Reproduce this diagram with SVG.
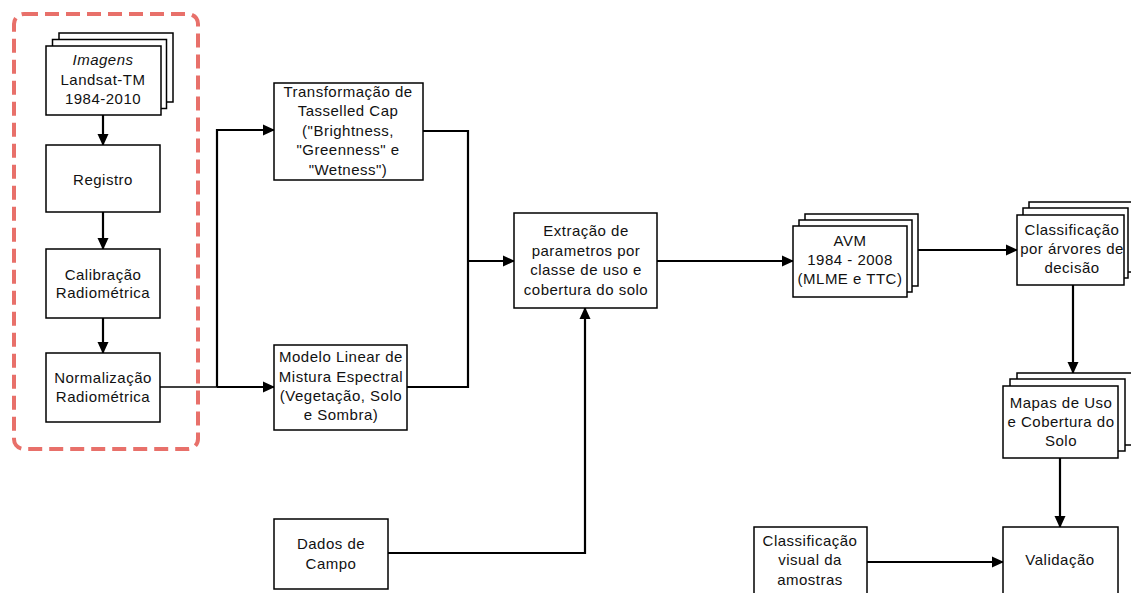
<svg xmlns="http://www.w3.org/2000/svg" width="1131" height="593" viewBox="0 0 1131 593">
  <style>
    .box { fill: #fff; stroke: #000; stroke-width: 1.5; }
    .lbl { font-family: "Liberation Sans", Arial, sans-serif; font-size: 15px; letter-spacing: 0.5px; fill: #111; text-anchor: middle; }
    .wire { fill: none; stroke: #000; stroke-width: 2.2; }
    .thin { fill: none; stroke: #000; stroke-width: 1.3; }
    .group { fill: none; stroke: #e8706a; stroke-width: 4; stroke-dasharray: 14 7; }
  </style>
  <defs>
    <marker id="arrow" markerUnits="userSpaceOnUse" markerWidth="12" markerHeight="12" viewBox="0 0 12 12" refX="11" refY="6" orient="auto">
      <path d="M0,0.5 L12,6 L0,11.5 Z" fill="#000"/>
    </marker>
  </defs>
  <rect width="1131" height="593" fill="#fff"/>

  <!-- pre-processing group -->
  <rect class="group" x="14" y="14" width="184" height="435" rx="10"/>

  <!-- connectors -->
  <g id="connectors">
    <path class="wire" d="M103,115 V145" marker-end="url(#arrow)"/>
    <path class="wire" d="M103,212 V249" marker-end="url(#arrow)"/>
    <path class="wire" d="M103,318 V353" marker-end="url(#arrow)"/>
    <path class="thin" d="M160,387 H217"/>
    <path class="wire" d="M217,387 V130 H274" marker-end="url(#arrow)"/>
    <path class="wire" d="M217,387 H274" marker-end="url(#arrow)"/>
    <path class="wire" d="M423,131 H468 V387 H407"/>
    <path class="wire" d="M468,261 H514" marker-end="url(#arrow)"/>
    <path class="wire" d="M388,553 H585 V308" marker-end="url(#arrow)"/>
    <path class="wire" d="M657,261 H793" marker-end="url(#arrow)"/>
    <path class="wire" d="M917,250 H1017" marker-end="url(#arrow)"/>
    <path class="wire" d="M1073,285 V373" marker-end="url(#arrow)"/>
    <path class="wire" d="M1060,458 V527" marker-end="url(#arrow)"/>
    <path class="wire" d="M867,562 H1003" marker-end="url(#arrow)"/>
  </g>

  <g id="imagens">
    <rect class="box" x="59" y="33" width="114" height="69"/>
    <rect class="box" x="52.5" y="39.5" width="114" height="69"/>
    <rect class="box" x="46" y="46" width="115" height="69"/>
    <text class="lbl" x="103" y="65" font-style="italic">Imagens</text>
    <text class="lbl" x="103" y="85">Landsat-TM</text>
    <text class="lbl" x="103" y="104">1984-2010</text>
  </g>

  <g id="registro">
    <rect class="box" x="46" y="145" width="114" height="67"/>
    <text class="lbl" x="103" y="185">Registro</text>
  </g>

  <g id="calibracao">
    <rect class="box" x="46" y="249" width="114" height="69"/>
    <text class="lbl" x="103" y="280">Calibração</text>
    <text class="lbl" x="103" y="298">Radiométrica</text>
  </g>

  <g id="normalizacao">
    <rect class="box" x="46" y="353" width="114" height="69"/>
    <text class="lbl" x="103" y="383">Normalização</text>
    <text class="lbl" x="103" y="402">Radiométrica</text>
  </g>

  <g id="tasselled-cap">
    <rect class="box" x="274" y="83" width="149" height="97"/>
    <text class="lbl" x="348" y="97">Transformação de</text>
    <text class="lbl" x="348" y="116">Tasselled Cap</text>
    <text class="lbl" x="348" y="136">("Brightness,</text>
    <text class="lbl" x="348" y="155">"Greenness" e</text>
    <text class="lbl" x="348" y="175">"Wetness")</text>
  </g>

  <g id="mistura-espectral">
    <rect class="box" x="274" y="345" width="133" height="85"/>
    <text class="lbl" x="341" y="362">Modelo Linear de</text>
    <text class="lbl" x="341" y="382">Mistura Espectral</text>
    <text class="lbl" x="341" y="401">(Vegetação, Solo</text>
    <text class="lbl" x="341" y="420">e Sombra)</text>
  </g>

  <g id="extracao">
    <rect class="box" x="514" y="213" width="143" height="95"/>
    <text class="lbl" x="586" y="236">Extração de</text>
    <text class="lbl" x="586" y="256">parametros por</text>
    <text class="lbl" x="586" y="275">classe de uso e</text>
    <text class="lbl" x="586" y="295">cobertura do solo</text>
  </g>

  <g id="dados-campo">
    <rect class="box" x="274" y="519" width="114" height="70"/>
    <text class="lbl" x="331" y="549">Dados de</text>
    <text class="lbl" x="331" y="569">Campo</text>
  </g>

  <g id="avm">
    <rect class="box" x="805" y="214" width="113" height="72"/>
    <rect class="box" x="799" y="220" width="113" height="72"/>
    <rect class="box" x="793" y="226" width="114" height="71"/>
    <text class="lbl" x="850" y="246">AVM</text>
    <text class="lbl" x="850" y="265">1984 - 2008</text>
    <text class="lbl" x="850" y="284">(MLME e TTC)</text>
  </g>

  <g id="arvores-decisao">
    <rect class="box" x="1029" y="202" width="110" height="70"/>
    <rect class="box" x="1023" y="208" width="105" height="70"/>
    <rect class="box" x="1017" y="215" width="107" height="70"/>
    <text class="lbl" x="1072" y="235">Classificação</text>
    <text class="lbl" x="1072" y="254">por árvores de</text>
    <text class="lbl" x="1072" y="273">decisão</text>
  </g>

  <g id="mapas">
    <rect class="box" x="1017" y="373" width="116" height="72"/>
    <rect class="box" x="1010" y="379" width="115" height="72"/>
    <rect class="box" x="1003" y="386" width="115" height="72"/>
    <text class="lbl" x="1061" y="408">Mapas de Uso</text>
    <text class="lbl" x="1061" y="427">e Cobertura do</text>
    <text class="lbl" x="1061" y="446">Solo</text>
  </g>

  <g id="classificacao-visual">
    <rect class="box" x="754" y="527" width="113" height="80"/>
    <text class="lbl" x="810" y="546">Classificação</text>
    <text class="lbl" x="810" y="565">visual da</text>
    <text class="lbl" x="810" y="585">amostras</text>
  </g>

  <g id="validacao">
    <rect class="box" x="1003" y="527" width="115" height="80"/>
    <text class="lbl" x="1060" y="565">Validação</text>
  </g>
</svg>
